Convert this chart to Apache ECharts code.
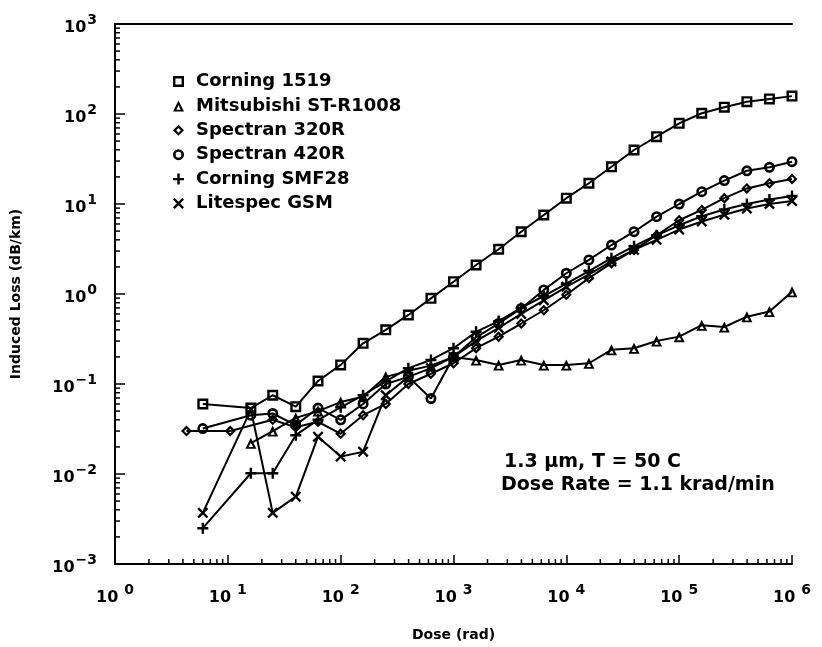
<!DOCTYPE html>
<html><head><meta charset="utf-8">
<script src="https://cdn.jsdelivr.net/npm/echarts@6/dist/echarts.min.js"></script>
<style>html,body{margin:0;padding:0;background:#fff}#c{width:822px;height:647px}</style>
</head><body><div id="c"></div>
<script>
// ---- data ----
const seriesNames = ['Corning 1519','Mitsubishi ST-R1008','Spectran 320R','Spectran 420R','Corning SMF28','Litespec GSM'];
const doseGrid = [6,16,25,40,63,100,158,251,398,631,1000,1585,2512,3981,6310,10000,15850,25120,39810,63100,100000,158500,251200,398100,631000,1000000];

const lossCorning1519 = [0.060,0.054,0.075,0.056,0.108,0.163,0.283,0.40,0.585,0.895,1.37,2.1,3.14,4.92,7.55,11.6,17,25.9,39.8,56,78.8,102,119,137,147,158];

const doseMitsubishi = [16,25,40,63,100,158,251,398,631,1000,1585,2512,3981,6310,10000,15850,25120,39810,63100,100000,158500,251200,398100,631000,1000000];
const lossMitsubishi = [0.022,0.03,0.042,0.05,0.063,0.072,0.12,0.14,0.16,0.2,0.185,0.163,0.185,0.163,0.163,0.17,0.24,0.25,0.30,0.336,0.45,0.43,0.56,0.64,1.06];

const doseSpectran320R = [4.3,10.5,25,40,63,100,158,251,398,631,1000,1585,2512,3981,6310,10000,15850,25120,39810,63100,100000,158500,251200,398100,631000,1000000];
const lossSpectran320R = [0.03,0.03,0.04,0.033,0.038,0.028,0.045,0.06,0.1,0.13,0.17,0.25,0.336,0.47,0.66,0.98,1.5,2.2,3.08,4.5,6.6,8.6,11.6,14.9,17,19];

const lossSpectran420R = [0.032,0.045,0.047,0.035,0.054,0.04,0.06,0.1,0.12,0.069,0.2,0.33,0.47,0.69,1.11,1.70,2.39,3.5,4.92,7.23,10.0,13.7,18.2,23.4,25.6,29.5];

const lossSMF28 = [0.0025,0.0102,0.0102,0.027,0.04,0.055,0.075,0.107,0.15,0.185,0.25,0.38,0.5,0.7,0.95,1.3,1.8,2.5,3.4,4.5,5.8,7.3,8.7,10,11.2,12.3];

const lossLitespec = [0.0037,0.052,0.0037,0.0056,0.026,0.0156,0.0177,0.075,0.12,0.15,0.2,0.3,0.42,0.6,0.85,1.2,1.65,2.3,3.1,4.0,5.2,6.4,7.6,8.9,10,10.8];

const xExponents = [0,1,2,3,4,5,6];
const yExponents = [-3,-2,-1,0,1,2,3];
const minorMultipliers = [2,3,4,5,6,7,8,9];
const noteLines = ['1.3 \u03bcm, T = 50 C', 'Dose Rate = 1.1 krad/min'];

// ---- styling ----
const FONT = 'DejaVu Sans';
const SYM = {
  square: 'path://M0,0H10V10H0Z M2.2,2.2V7.8H7.8V2.2Z',
  triangle: 'path://M5,0L10,10L0,10Z M5,4.4L3.0,8.4L7.0,8.4Z',
  diamond: 'path://M5,0L10,5L5,10L0,5Z M5,2.8L2.8,5L5,7.2L7.2,5Z',
  circle: 'path://M5,0A5,5 0 1,1 5,10A5,5 0 1,1 5,0Z M5,2.4A2.6,2.6 0 1,0 5,7.6A2.6,2.6 0 1,0 5,2.4Z',
  plus: 'path://M3.9,0H6.1V3.9H10V6.1H6.1V10H3.9V6.1H0V3.9H3.9Z',
  cross: 'path://M1.5,0L5,3.5L8.5,0L10,1.5L6.5,5L10,8.5L8.5,10L5,6.5L1.5,10L0,8.5L3.5,5L0,1.5Z'
};
const symbolList = [SYM.square, SYM.triangle, SYM.diamond, SYM.circle, SYM.plus, SYM.cross];

function zip(xs, ys){ return xs.map((x,i)=>[x, ys[i]]); }
const seriesData = [
  zip(doseGrid, lossCorning1519),
  zip(doseMitsubishi, lossMitsubishi),
  zip(doseSpectran320R, lossSpectran320R),
  zip(doseGrid, lossSpectran420R),
  zip(doseGrid, lossSMF28),
  zip(doseGrid, lossLitespec)
];

function expLabel(v){
  const e = Math.round(Math.log10(v));
  return '{a|10}{b|' + (e < 0 ? '\u2212' + (-e) : e) + '}';
}
const richY = {
  a: {fontFamily: FONT, fontSize: 16, fontWeight: 'bold', color: '#000', padding: [8,0,0,0]},
  b: {fontFamily: FONT, fontSize: 14, fontWeight: 'bold', color: '#000', padding: [0,0,7,1]}
};
const richX = {
  a: {fontFamily: FONT, fontSize: 16, fontWeight: 'bold', color: '#000', padding: [8,0,0,0]},
  b: {fontFamily: FONT, fontSize: 14, fontWeight: 'bold', color: '#000', padding: [0,0,7,6]}
};

const xMin = Math.pow(10, xExponents[0]), xMax = Math.pow(10, xExponents[xExponents.length-1]);
const yMin = Math.pow(10, yExponents[0]), yMax = Math.pow(10, yExponents[yExponents.length-1]);
const xMinor = [], yMinor = [];
xExponents.slice(0,-1).forEach(e => minorMultipliers.forEach(m => xMinor.push(m*Math.pow(10,e))));
yExponents.slice(0,-1).forEach(e => minorMultipliers.forEach(m => yMinor.push(m*Math.pow(10,e))));

const chart = echarts.init(document.getElementById('c'), null, {renderer: 'canvas'});
const lineSeries = seriesNames.map((name, i) => ({
  name, type: 'line', data: seriesData[i],
  symbol: symbolList[i], symbolSize: 11, showSymbol: true,
  lineStyle: {color: '#000', width: 2},
  itemStyle: {color: '#000'},
  z: 3
}));

const tickSeries = [
  {type: 'custom', data: xMinor.map(v=>[v, yMin]), silent: true, clip: false, z: 5,
   renderItem: (p, api) => { const pt = api.coord([api.value(0), yMin]);
     return {type:'line', shape:{x1:pt[0], y1:pt[1], x2:pt[0], y2:pt[1]-5}, style:{stroke:'#000', lineWidth:1.5}}; }},
  {type: 'custom', data: yMinor.map(v=>[xMin, v]), silent: true, clip: false, z: 5,
   renderItem: (p, api) => { const pt = api.coord([xMin, api.value(1)]);
     return {type:'line', shape:{x1:pt[0], y1:pt[1], x2:pt[0]+5, y2:pt[1]}, style:{stroke:'#000', lineWidth:1.5}}; }}
];

chart.setOption({
  animation: false,
  backgroundColor: '#fff',
  grid: {left: 115, right: 30, top: 24, bottom: 83},
  legend: {
    orient: 'vertical', left: 168, top: 67, itemGap: 5.4,
    itemWidth: 11, itemHeight: 11,
    data: seriesNames.map((n,i)=>({name:n, icon: symbolList[i]})),
    textStyle: {fontFamily: FONT, fontSize: 18, fontWeight: 'bold', color: '#000', lineHeight: 19, padding: [0,0,0,7]},
    itemStyle: {color: '#000'}
  },
  xAxis: [{
    type: 'log', logBase: 10, min: xMin, max: xMax,
    name: 'Dose (rad)', nameLocation: 'middle', nameGap: 64,
    nameTextStyle: {fontFamily: FONT, fontSize: 14, fontWeight: 'bold', color: '#000'},
    axisLine: {lineStyle: {color: '#000', width: 2}},
    axisTick: {inside: true, length: 9, lineStyle: {color: '#000', width: 1.5}},
    axisLabel: {formatter: expLabel, rich: richX, margin: 18},
    splitLine: {show: false}
  }, {
    type: 'log', logBase: 10, min: xMin, max: xMax, position: 'top',
    axisLine: {lineStyle: {color: '#000', width: 2}},
    axisTick: {show: false}, axisLabel: {show: false}, splitLine: {show: false}
  }],
  yAxis: {
    type: 'log', logBase: 10, min: yMin, max: yMax,
    name: 'Induced Loss (dB/km)', nameLocation: 'middle', nameGap: 92, nameRotate: 90,
    nameTextStyle: {fontFamily: FONT, fontSize: 14, fontWeight: 'bold', color: '#000'},
    axisLine: {lineStyle: {color: '#000', width: 2}},
    axisTick: {inside: true, length: 10, lineStyle: {color: '#000', width: 1.5}},
    axisLabel: {formatter: expLabel, rich: richY, margin: 18},
    splitLine: {show: false}
  },
  graphic: [
    {type: 'text', left: 504, top: 453, style: {text: noteLines[0], fontFamily: FONT, fontSize: 19, fontWeight: 'bold', fill: '#000'}},
    {type: 'text', left: 501, top: 476, style: {text: noteLines[1], fontFamily: FONT, fontSize: 19, fontWeight: 'bold', fill: '#000'}}
  ],
  series: lineSeries.concat(tickSeries)
});
</script></body></html>
